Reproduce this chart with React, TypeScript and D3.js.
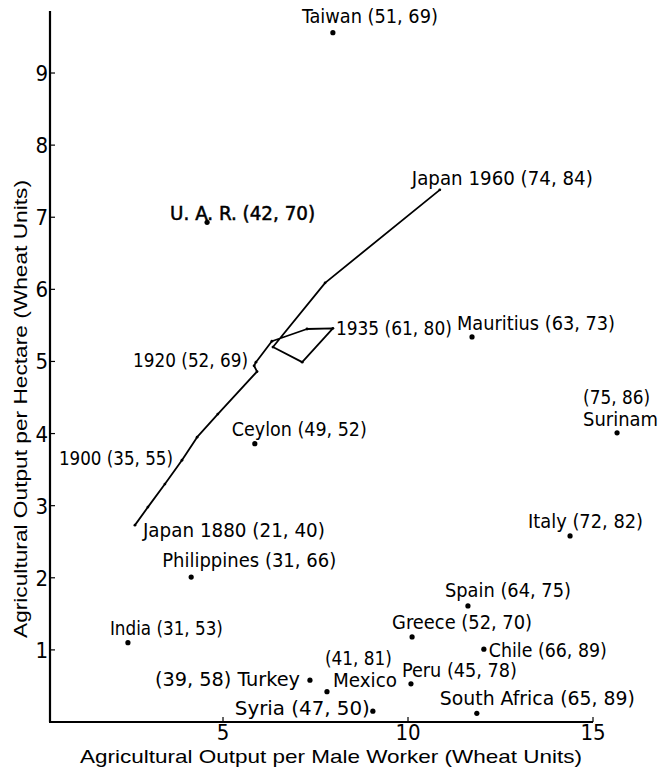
import React, {useEffect, useRef} from 'react';
import * as d3 from 'd3';

// countries (output per male worker, output per hectare)
const countryNames = ["Taiwan", "U.A.R.", "Ceylon", "Mauritius", "Surinam", "Italy", "Philippines", "India", "Turkey", "Mexico", "Syria", "Peru", "Greece", "Spain", "Chile", "South Africa"];
const countryX = [7.97, 4.57, 5.86, 11.73, 15.65, 14.38, 4.14, 2.43, 7.35, 7.81, 9.05, 10.08, 10.11, 11.62, 12.05, 11.86];
const countryY = [9.56, 6.93, 3.86, 5.34, 4.01, 2.58, 2.01, 1.10, 0.58, 0.42, 0.15, 0.53, 1.18, 1.61, 1.01, 0.12];
const countryLabels = [
  ["Taiwan (51, 69)"], ["U. A. R.  (42, 70)"], ["Ceylon (49, 52)"], ["Mauritius (63, 73)"],
  ["(75, 86)", "Surinam"], ["Italy (72, 82)"], ["Philippines (31, 66)"], ["India (31, 53)"],
  ["(39, 58)  Turkey"], ["(41, 81)", "Mexico"], ["Syria  (47, 50)"], ["Peru (45, 78)"],
  ["Greece (52, 70)"], ["Spain (64, 75)"], ["Chile (66, 89)"], ["South Africa (65, 89)"]
];

// Japan 1880 -> 1960 path
const japanX = [2.62, 2.97, 3.43, 3.89, 4.30, 4.86, 5.92, 5.84, 5.89, 6.32, 7.27, 7.97, 7.14, 6.35, 7.76, 10.86];
const japanY = [2.73, 2.98, 3.30, 3.63, 3.95, 4.27, 4.86, 4.94, 4.99, 5.28, 5.45, 5.46, 4.99, 5.20, 6.09, 7.38];
const japanLabelIndex = [0, 3, 7, 11, 15];
const japanLabels = ["Japan  1880 (21, 40)", "1900 (35, 55)", "1920 (52, 69)", "1935 (61, 80)", "Japan  1960 (74, 84)"];

const xTicks = [5, 10, 15];
const yTicks = [1, 2, 3, 4, 5, 6, 7, 8, 9];
const xTitle = "Agricultural Output per Male Worker  (Wheat Units)";
const yTitle = "Agricultural Output per Hectare  (Wheat Units)";

// label layout: [dx, dy, width] per line, relative to the point
const countryLayout = [
  [[-31, -10, 136]], [[-37, -2, 145]], [[-23, -8, 135]], [[-15, -7, 158]],
  [[-34, -29, 67], [-34, -7, 75]], [[-42, -8, 115]], [[-29, -10, 174]], [[-18, -8, 113]],
  [[-155, 6, 145]], [[-2, -27, 67], [6, -5, 64]], [[-138, 4, 135]], [[-9, -7, 115]],
  [[-20, -8, 140]], [[-23, -9, 126]], [[5, 8, 118]], [[-37, -8, 195]]
];
const japanLayout = [[8, 12, 182], [-123, 5, 114], [-121, 1, 115], [3, 7, 116], [-28, -5, 181]];

const labelFont = "'Liberation Sans Narrow', 'DejaVu Sans Condensed', 'Liberation Sans', sans-serif";
const titleFont = "'Liberation Sans', 'DejaVu Sans', sans-serif";

export default function App() {
  const ref = useRef<SVGSVGElement>(null);

  useEffect(() => {
    const svg = d3.select(ref.current);
    svg.selectAll("*").remove();

    const xScale = d3.scaleLinear().domain([0.27, 15]).range([48, 593]);
    const yScale = d3.scaleLinear().domain([0, 9.86]).range([722, 11]);

    //axes
    svg.append("line").attr("x1", xScale(0.27) + 2).attr("x2", xScale(0.27) + 2).attr("y1", yScale(9.86)).attr("y2", yScale(0))
      .attr("stroke", "#000").attr("stroke-width", 2.2);
    svg.append("line").attr("x1", xScale(0.27) + 1).attr("x2", xScale(15)).attr("y1", yScale(0)).attr("y2", yScale(0))
      .attr("stroke", "#000").attr("stroke-width", 2.2);

    svg.selectAll(".ytick").data(yTicks).join("line").attr("class", "ytick")
      .attr("x1", xScale(0.27) + 2).attr("x2", xScale(0.27) + 7).attr("y1", d => yScale(d)).attr("y2", d => yScale(d))
      .attr("stroke", "#000").attr("stroke-width", 1.2);
    svg.selectAll(".ylab").data(yTicks).join("text").attr("class", "ylab")
      .attr("x", xScale(0.27)).attr("y", d => yScale(d) + 8).attr("text-anchor", "end")
      .attr("font-family", labelFont).attr("font-size", 22).text(d => d);

    svg.selectAll(".xtick").data(xTicks).join("line").attr("class", "xtick")
      .attr("x1", d => xScale(d)).attr("x2", d => xScale(d)).attr("y1", yScale(0)).attr("y2", yScale(0) - 5)
      .attr("stroke", "#000").attr("stroke-width", 1.2);
    svg.selectAll(".xlab").data(xTicks).join("text").attr("class", "xlab")
      .attr("x", d => xScale(d)).attr("y", 740).attr("text-anchor", "middle")
      .attr("font-family", labelFont).attr("font-size", 22).text(d => d);

    //titles
    svg.append("text").attr("x", 331).attr("y", 763).attr("text-anchor", "middle")
      .attr("font-family", titleFont).attr("font-size", 19)
      .attr("textLength", 502).attr("lengthAdjust", "spacingAndGlyphs").text(xTitle);
    svg.append("text").attr("transform", "translate(27, 409) rotate(-90)").attr("text-anchor", "middle")
      .attr("font-family", titleFont).attr("font-size", 19)
      .attr("textLength", 458).attr("lengthAdjust", "spacingAndGlyphs").text(yTitle);

    //japan path
    const pts = japanX.map((x, i) => [xScale(x), yScale(japanY[i])] as [number, number]);
    svg.append("path").attr("d", d3.line()(pts)).attr("fill", "none").attr("stroke", "#000")
      .attr("stroke-width", 1.8).attr("stroke-linejoin", "round");
    svg.selectAll(".jdot").data(pts).join("circle").attr("class", "jdot")
      .attr("cx", d => d[0]).attr("cy", d => d[1]).attr("r", 1.4).attr("fill", "#000");
    svg.selectAll(".jlab").data(japanLabels).join("text").attr("class", "jlab")
      .attr("x", (d, i) => pts[japanLabelIndex[i]][0] + japanLayout[i][0])
      .attr("y", (d, i) => pts[japanLabelIndex[i]][1] + japanLayout[i][1])
      .attr("textLength", (d, i) => japanLayout[i][2]).attr("lengthAdjust", "spacingAndGlyphs")
      .attr("font-family", labelFont).attr("font-size", 20).text(d => d);

    //countries
    svg.selectAll(".cdot").data(countryNames).join("circle").attr("class", "cdot")
      .attr("cx", (d, i) => xScale(countryX[i])).attr("cy", (d, i) => yScale(countryY[i])).attr("r", 2.6).attr("fill", "#000");
    countryLabels.forEach((lines, i) => {
      lines.forEach((line, j) => {
        const [dx, dy, w] = countryLayout[i][j];
        const t = svg.append("text").attr("x", xScale(countryX[i]) + dx).attr("y", yScale(countryY[i]) + dy)
          .attr("textLength", w).attr("lengthAdjust", "spacingAndGlyphs")
          .attr("font-family", labelFont).attr("font-size", j === 0 && lines.length > 1 ? 19 : 20).text(line);
        if (countryNames[i] === "U.A.R.") t.attr("stroke", "#000").attr("stroke-width", 0.5);
      });
    });
  }, []);

  return (
    <svg ref={ref} width={661} height={770} style={{position: "absolute", left: 0, top: 0, background: "#fff"}}></svg>
  );
}
